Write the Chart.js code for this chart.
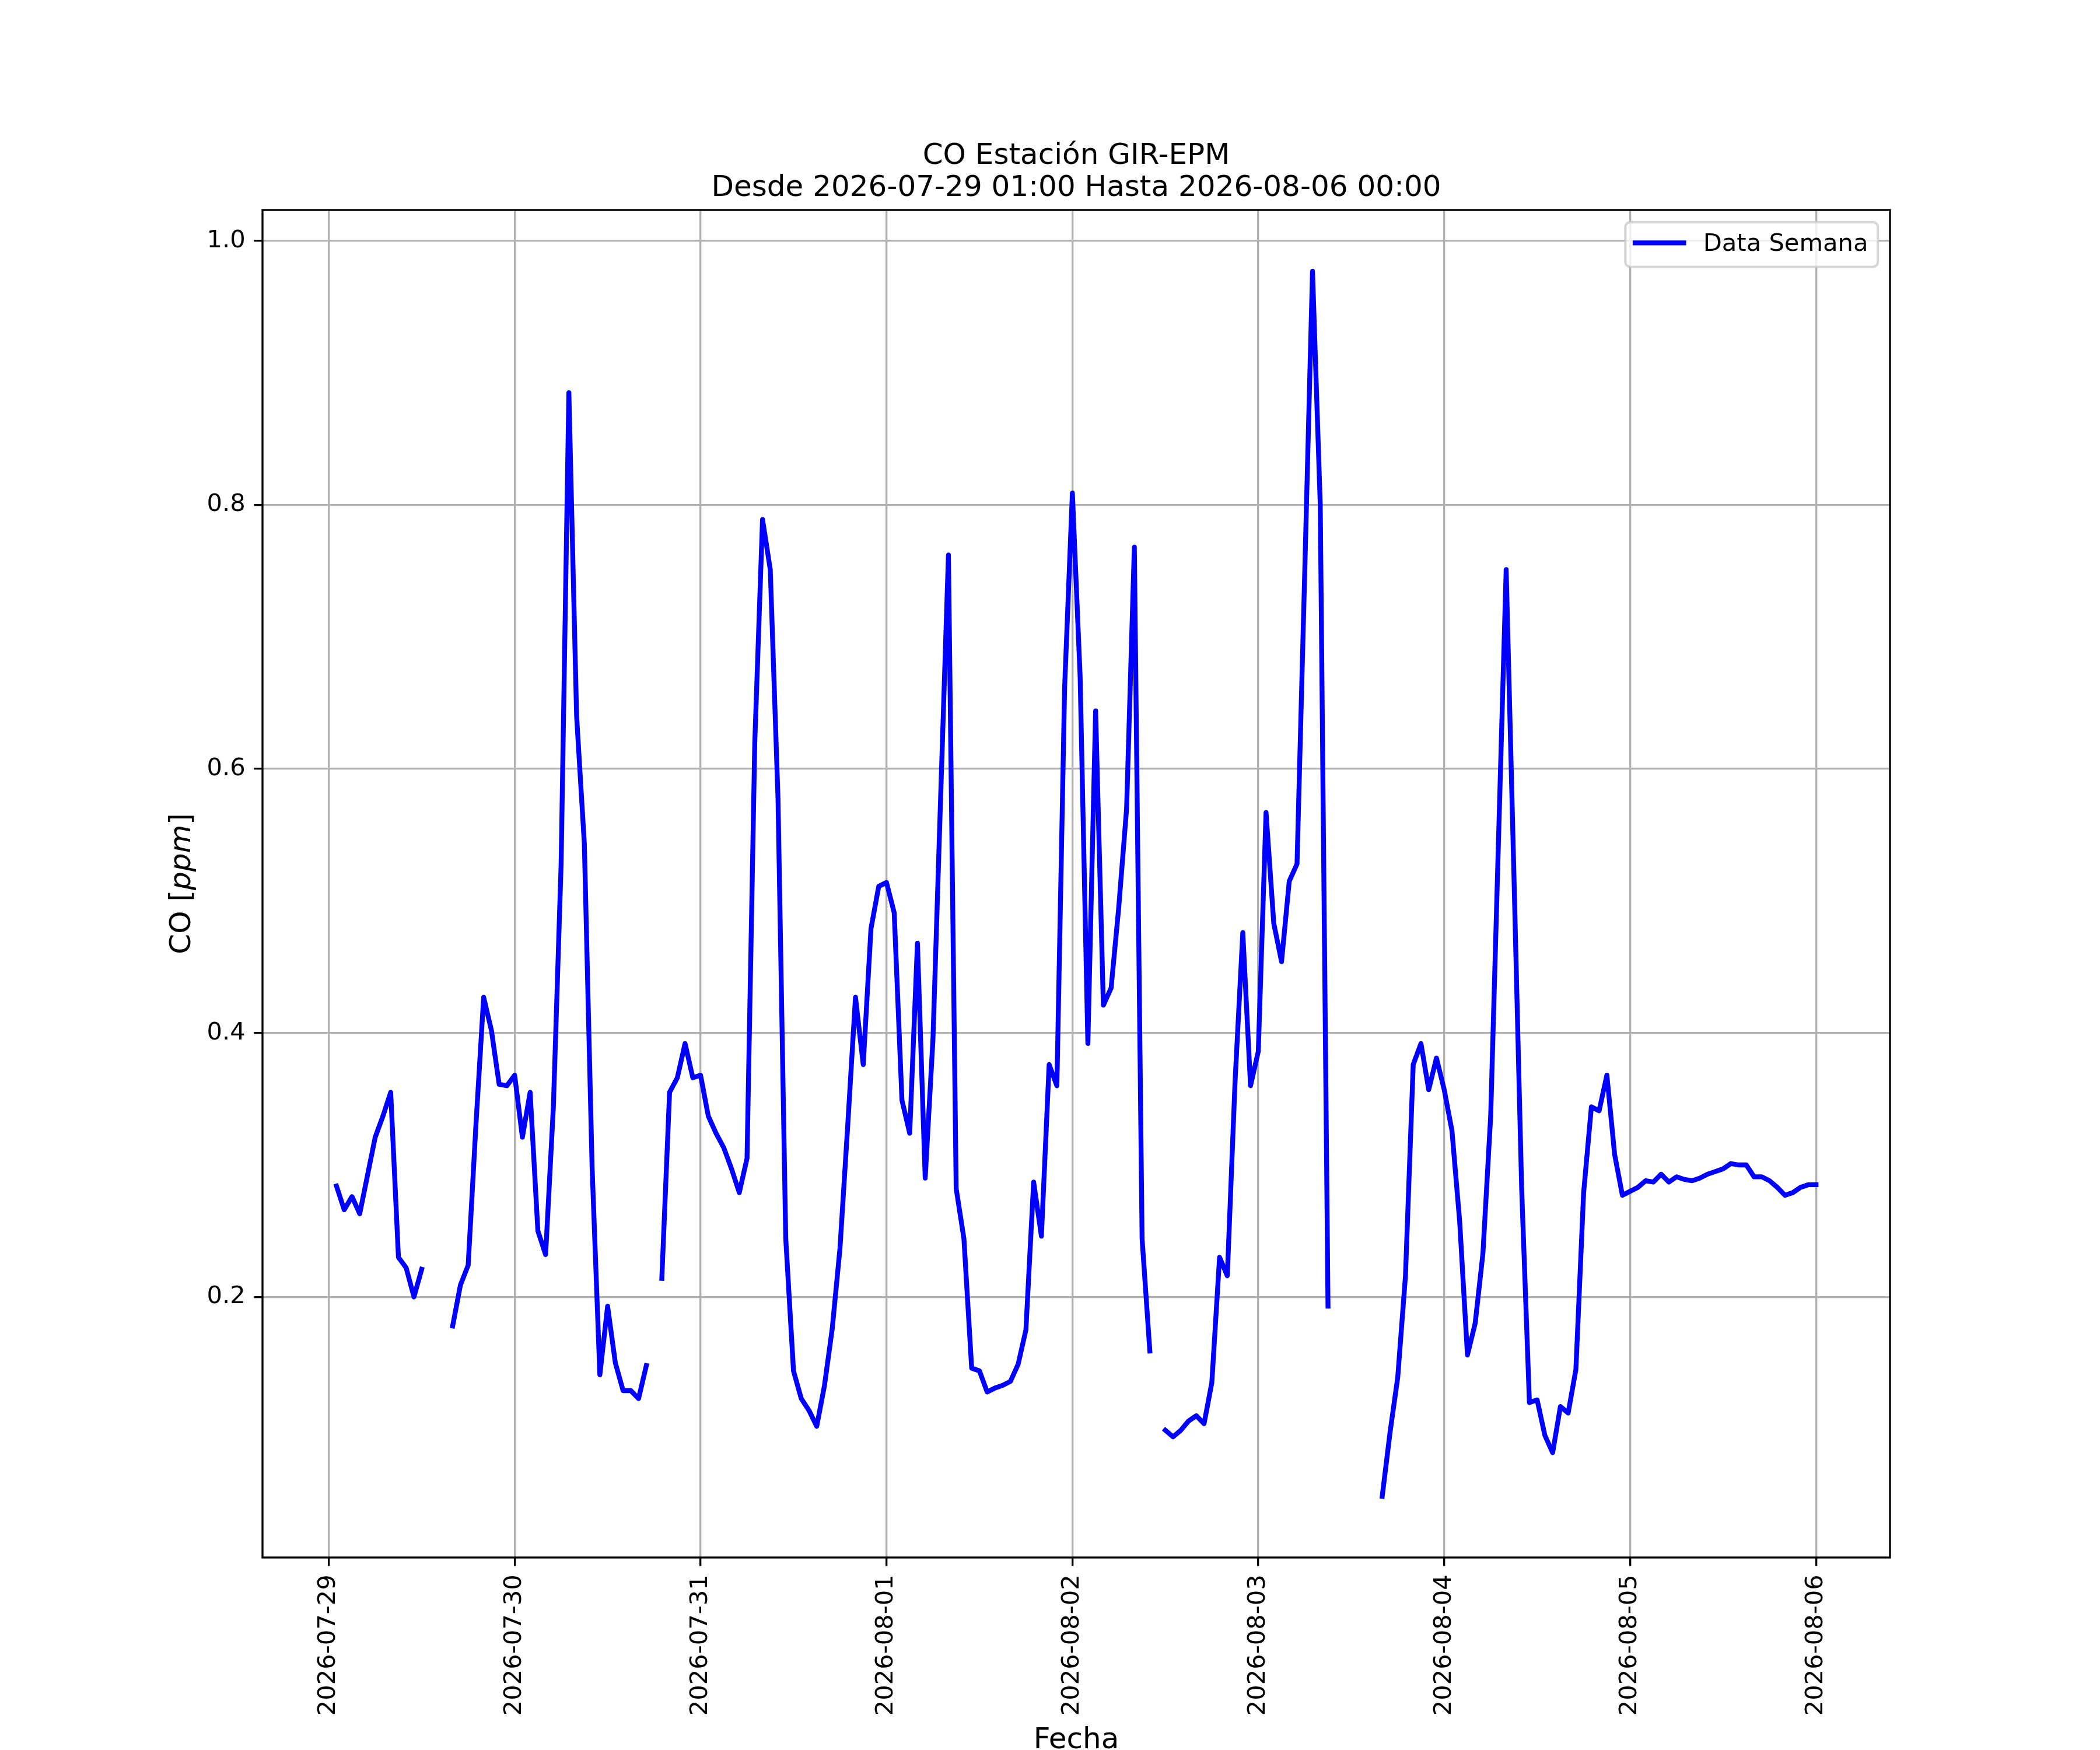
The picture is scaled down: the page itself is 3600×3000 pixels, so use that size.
<!DOCTYPE html>
<html>
<head>
<meta charset="utf-8">
<title>CO Estación GIR-EPM</title>
<script src="https://cdn.jsdelivr.net/npm/chart.js@4.4.1/dist/chart.umd.min.js"></script>
<style>
    html, body { margin: 0; padding: 0; background: #ffffff; }
    #wrap { width: 3600px; height: 3000px; }
</style>
</head>
<body>
<div id="wrap"><canvas id="coChart" width="3600" height="3000"></canvas></div>
<script>
// 1 pt in canvas pixels (figure is 12 x 10 in at 300 dpi)
const PT = 300 / 72;
const FONT = 'DejaVu Sans';

const titleLines = ['CO Estación GIR-EPM', 'Desde 2026-07-29 01:00 Hasta 2026-08-06 00:00'];
const seriesLabel = 'Data Semana';
const xTitle = 'Fecha';

// date ticks, one per day at 00:00
const tickLabels = [
    '2026-07-29', '2026-07-30', '2026-07-31', '2026-08-01', '2026-08-02',
    '2026-08-03', '2026-08-04', '2026-08-05', '2026-08-06'
];

// hourly CO [ppm], first value is 2026-07-29 01:00 (hour 1), null = no data
const firstHour = 1;
const coValues = [
    // 07-29 01:00 .. 07-30 00:00
    0.284, 0.266, 0.276, 0.263, 0.292, 0.321, 0.337, 0.355, 0.230, 0.222, 0.200, 0.221,
    null, null, null, 0.178, 0.209, 0.224, 0.330, 0.427, 0.402, 0.361, 0.360, 0.368,
    // 07-30 01:00 .. 07-31 00:00
    0.321, 0.355, 0.250, 0.232, 0.344, 0.528, 0.885, 0.640, 0.543, 0.298, 0.141, 0.193,
    0.150, 0.129, 0.129, 0.123, 0.148, null, 0.214, 0.355, 0.366, 0.392, 0.366, 0.368,
    // 07-31 01:00 .. 08-01 00:00
    0.337, 0.324, 0.313, 0.297, 0.279, 0.305, 0.620, 0.789, 0.751, 0.577, 0.244, 0.144,
    0.123, 0.114, 0.102, 0.133, 0.176, 0.237, 0.330, 0.427, 0.376, 0.479, 0.511, 0.514,
    // 08-01 01:00 .. 08-02 00:00
    0.491, 0.349, 0.324, 0.468, 0.290, 0.395, 0.580, 0.762, 0.282, 0.244, 0.146, 0.144,
    0.128, 0.131, 0.133, 0.136, 0.149, 0.175, 0.287, 0.246, 0.376, 0.360, 0.662, 0.809,
    // 08-02 01:00 .. 08-03 00:00
    0.670, 0.392, 0.644, 0.421, 0.434, 0.496, 0.570, 0.768, 0.244, 0.159, null, 0.099,
    0.094, 0.099, 0.106, 0.110, 0.104, 0.135, 0.230, 0.216, 0.363, 0.476, 0.360, 0.386,
    // 08-03 01:00 .. 08-04 00:00
    0.567, 0.483, 0.454, 0.515, 0.528, 0.750, 0.977, 0.800, 0.193, null, null, null,
    null, null, null, 0.049, 0.097, 0.139, 0.216, 0.376, 0.392, 0.357, 0.381, 0.357,
    // 08-04 01:00 .. 08-05 00:00
    0.326, 0.257, 0.156, 0.180, 0.233, 0.337, 0.544, 0.751, 0.520, 0.282, 0.120, 0.122,
    0.095, 0.082, 0.117, 0.112, 0.145, 0.279, 0.344, 0.341, 0.368, 0.308, 0.277, 0.280,
    // 08-05 01:00 .. 08-06 00:00
    0.283, 0.288, 0.287, 0.293, 0.287, 0.291, 0.289, 0.288, 0.290, 0.293, 0.295, 0.297,
    0.301, 0.300, 0.300, 0.291, 0.291, 0.288, 0.283, 0.277, 0.279, 0.283, 0.285, 0.285
];

const yTickValues = [0.2, 0.4, 0.6, 0.8, 1.0];

const points = coValues.map((v, i) => ({ x: firstHour + i, y: v }));
const tickHours = tickLabels.map((_, i) => i * 24);

// matplotlib style autoscale: 5 % margin around the data
const withMargin = (lo, hi) => {
    const m = (hi - lo) * 0.05;
    return [lo - m, hi + m];
};
const known = coValues.filter((v) => v !== null);
const [xMin, xMax] = withMargin(firstHour, firstHour + coValues.length - 1);
const [yMin, yMax] = withMargin(Math.min(...known), Math.max(...known));

const mplDecor = {
    id: 'mplDecor',
    afterDatasetsDraw(chart) {
        const { ctx, chartArea: a } = chart;
        ctx.save();
        ctx.strokeStyle = '#000000';
        ctx.lineWidth = 0.8 * PT;
        ctx.strokeRect(a.left, a.top, a.right - a.left, a.bottom - a.top);
        ctx.restore();
    },
    afterDraw(chart) {
        const { ctx, chartArea: a } = chart;
        const ds = chart.data.datasets[0];
        const labelSize = 12 * PT;
        const legendSize = 10 * PT;

        ctx.save();
        ctx.fillStyle = '#000000';
        ctx.textBaseline = 'alphabetic';

        // x axis label
        ctx.font = `${labelSize}px "${FONT}"`;
        ctx.textAlign = 'center';
        ctx.fillText(xTitle, (a.left + a.right) / 2, a.bottom + 327);

        // y axis label, "ppm" in italics like mathtext
        const parts = [
            ['CO [', `${labelSize}px "${FONT}"`],
            ['ppm', `italic ${labelSize}px "${FONT}"`],
            [']', `${labelSize}px "${FONT}"`]
        ];
        let total = 0;
        parts.forEach(([t, f]) => { ctx.font = f; total += ctx.measureText(t).width; });
        ctx.translate(a.left - 124, (a.top + a.bottom) / 2);
        ctx.rotate(-Math.PI / 2);
        ctx.textAlign = 'left';
        let x = -total / 2;
        parts.forEach(([t, f]) => {
            ctx.font = f;
            ctx.fillText(t, x, 0);
            x += ctx.measureText(t).width;
        });
        ctx.restore();

        // legend, upper right
        ctx.save();
        ctx.font = `${legendSize}px "${FONT}"`;
        const pad = 0.4 * legendSize;
        const handleLen = 2.0 * legendSize;
        const handlePad = 0.8 * legendSize;
        const textW = ctx.measureText(ds.label).width;
        const boxW = pad * 2 + handleLen + handlePad + textW;
        const boxH = 76.7;
        const left = a.right - 0.5 * legendSize - boxW;
        const top = a.top + 0.5 * legendSize;

        ctx.beginPath();
        ctx.roundRect(left, top, boxW, boxH, 0.2 * legendSize);
        ctx.fillStyle = 'rgba(255, 255, 255, 0.8)';
        ctx.fill();
        ctx.lineWidth = 1.0 * PT;
        ctx.strokeStyle = 'rgba(204, 204, 204, 0.8)';
        ctx.stroke();

        ctx.beginPath();
        ctx.moveTo(left + pad, top + 35.5);
        ctx.lineTo(left + pad + handleLen, top + 35.5);
        ctx.strokeStyle = ds.borderColor;
        ctx.lineWidth = ds.borderWidth;
        ctx.lineCap = 'square';
        ctx.stroke();

        ctx.fillStyle = '#000000';
        ctx.textAlign = 'left';
        ctx.textBaseline = 'alphabetic';
        ctx.fillText(ds.label, left + pad + handleLen + handlePad, top + 49.5);
        ctx.restore();
    }
};

const tickFont = { family: FONT, size: 10 * PT };
const gridStyle = {
    color: '#b0b0b0',
    lineWidth: 0.8 * PT,
    drawTicks: true,
    tickLength: 3.5 * PT,
    tickColor: '#000000',
    tickWidth: 0.8 * PT
};

new Chart(document.getElementById('coChart'), {
    type: 'line',
    data: {
        datasets: [
            {
                label: seriesLabel,
                data: points,
                borderColor: '#0000ff',
                borderWidth: 2 * PT,
                borderCapStyle: 'square',
                borderJoinStyle: 'round',
                pointRadius: 0,
                pointHoverRadius: 0,
                tension: 0,
                spanGaps: false,
                fill: false
            }
        ]
    },
    options: {
        responsive: false,
        devicePixelRatio: 1,
        animation: false,
        events: [],
        layout: {
            padding: { left: 0, right: 360, top: 0, bottom: 0 }
        },
        scales: {
            x: {
                type: 'linear',
                min: xMin,
                max: xMax,
                grid: gridStyle,
                border: { display: false },
                afterBuildTicks: (scale) => {
                    scale.ticks = tickHours.map((value) => ({ value }));
                },
                afterFit: (scale) => {
                    scale.height = 330;
                },
                ticks: {
                    autoSkip: false,
                    minRotation: 90,
                    maxRotation: 90,
                    padding: 3.5 * PT,
                    color: '#000000',
                    font: tickFont,
                    callback: (_value, index) => tickLabels[index]
                }
            },
            y: {
                type: 'linear',
                min: yMin,
                max: yMax,
                grid: gridStyle,
                border: { display: false },
                afterBuildTicks: (scale) => {
                    scale.ticks = yTickValues.map((value) => ({ value }));
                },
                afterFit: (scale) => {
                    scale.width = 450;
                },
                ticks: {
                    padding: 3.5 * PT,
                    color: '#000000',
                    font: tickFont,
                    callback: (value) => Number(value).toFixed(1)
                }
            }
        },
        plugins: {
            legend: { display: false },
            tooltip: { enabled: false },
            title: {
                display: true,
                fullSize: false,
                text: titleLines,
                color: '#000000',
                font: { family: FONT, size: 12 * PT, weight: 'normal', lineHeight: 1.1 },
                padding: { top: 241, bottom: 9 }
            }
        }
    },
    plugins: [mplDecor]
});
</script>
</body>
</html>
